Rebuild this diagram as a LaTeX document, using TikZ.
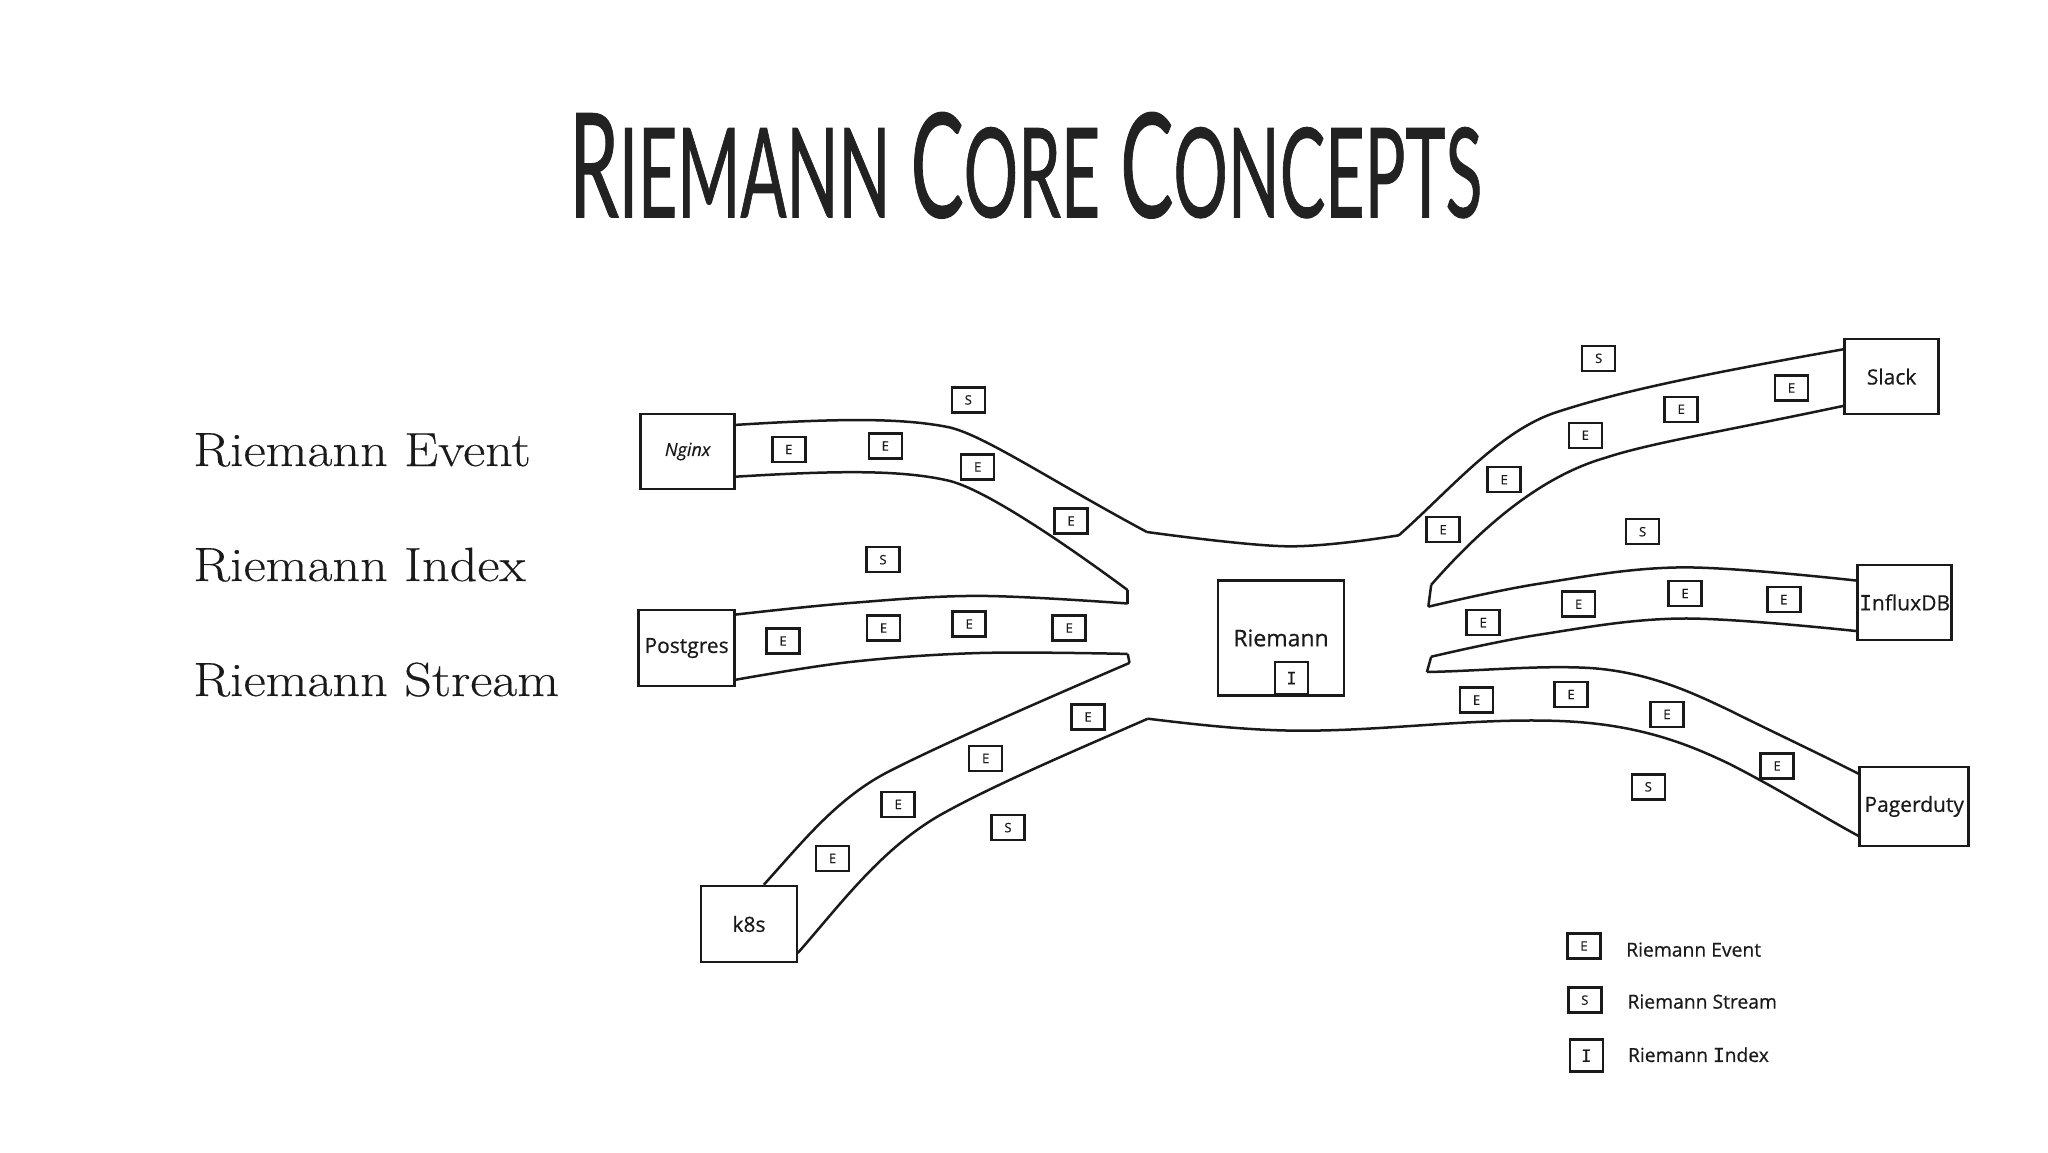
\documentclass[tikz,border=0pt]{standalone}
\usepackage{fontspec}
\newfontfamily\termfont[FakeStretch=1.13,FakeBold=0.25]{Latin Modern Roman}
\newfontfamily\sketchfont[FakeBold=0.5]{Open Sans}
\newfontfamily\barfont[FakeBold=0.5]{DejaVu Sans Mono}
\newfontfamily\titlefont[FakeBold=0.9]{Lato}
\newcommand{\barI}{{\barfont I}}
\definecolor{inkcolor}{HTML}{1A1A1A}
\definecolor{titlecolor}{HTML}{222222}
\tikzset{
  hostbox/.style={draw=inkcolor,line width=2.5pt,inner sep=0pt,text=inkcolor,font=\sketchfont\fontsize{21}{22}\selectfont},
  tokenbox/.style={draw=inkcolor,line width=2.5pt,inner sep=0pt,minimum width=33pt,minimum height=25pt,text=inkcolor,font=\sketchfont\fontsize{13}{14}\selectfont},
  pipe/.style={draw=inkcolor,line width=2.5pt,line join=round},
  keytext/.style={anchor=west,inner sep=0pt,text=inkcolor,font=\sketchfont\fontsize{19.3}{20}\selectfont},
  termtext/.style={anchor=base west,inner sep=0pt,text=inkcolor,font=\termfont\fontsize{48}{52}\selectfont},
}
\begin{document}
\begin{tikzpicture}[x=1pt,y=-1pt]
\useasboundingbox (0,0) rectangle (2048,1152);

\node[inner sep=0pt,anchor=north west,text=titlecolor] (title) at (569,112) {\resizebox{913pt}{105pt}{\titlefont\fontsize{105}{110}\selectfont R{\fontsize{90}{100}\selectfont IEMANN} C{\fontsize{90}{100}\selectfont ORE} C{\fontsize{90}{100}\selectfont ONCEPTS}}};

\node[termtext] (termE) at (193,466) {Riemann Event};
\node[termtext] (termI) at (193,581) {Riemann Index};
\node[termtext] (termS) at (193,696) {Riemann Stream};

% hosts
\node[hostbox,minimum width=94pt,minimum height=75pt,font=\sketchfont\fontsize{18}{18}\selectfont\itshape] (nginx) at (687.7,451.5) {Nginx};
\node[hostbox,minimum width=96pt,minimum height=76pt] (postgres) at (686.6,648) {Postgres};
\node[hostbox,minimum width=96pt,minimum height=76pt] (k8s) at (749,924) {k8s};
\node[hostbox,minimum width=94pt,minimum height=75pt] (slack) at (1891.6,376.6) {Slack};
\node[hostbox,minimum width=94pt,minimum height=75pt] (influx) at (1904.7,602.4) {\barI nfluxDB};
\node[hostbox,minimum width=109pt,minimum height=79pt] (pager) at (1914.2,806.4) {Pagerduty};
\node[hostbox,minimum width=126pt,minimum height=115pt,font=\sketchfont\fontsize{23}{24}\selectfont] (riemann) at (1281,638) {Riemann};

% corners of the channels
\coordinate (NW) at (1146.9,532);
\coordinate (NE) at (1398.8,535.3);
\coordinate (SW) at (1147.8,718.7);
\coordinate (A1) at (1127.7,590.1);
\coordinate (A2) at (1127.7,603.5);
\coordinate (B1) at (1127.7,653.9);
\coordinate (B2) at (1129.5,662.9);
\coordinate (C1) at (1431.2,584.8);
\coordinate (C2) at (1428.3,606.7);
\coordinate (D1) at (1431.2,656.7);
\coordinate (D2) at (1426.9,672);

% left side
\draw[pipe] (735.3,424.9) .. controls (830,419) and (900,417) .. (950,427.5) .. controls (985,436) and (1050,480) .. (NW);
\draw[pipe] (735.3,476.7) .. controls (830,471) and (900,469) .. (950,481) .. controls (985,490) and (1060,540) .. (A1);
\draw[pipe] (A1)--(A2);
\draw[pipe] plot[smooth,tension=0.6] coordinates {(735.3,614.6) (850,603) (979.5,595.9) (A2)};
\draw[pipe] plot[smooth,tension=0.6] coordinates {(735.3,679.8) (850,662) (979.5,653) (B1)};
\draw[pipe] (B1)--(B2);
\draw[pipe] (763.8,884.7) .. controls (800,845) and (835,800) .. (885.7,773.1) .. controls (930,750) and (1020,710) .. (B2);
\draw[pipe] (797.8,953) .. controls (840,905) and (880,850) .. (939.3,815.5) .. controls (990,787) and (1060,757) .. (SW);

% middle
\draw[pipe] plot[smooth,tension=0.6] coordinates {(NW) (1287.5,546.3) (NE)};
\draw[pipe] (SW) .. controls (1200,725) and (1260,732) .. (1320,730.5) .. controls (1400,729) and (1480,718) .. (1560,721) .. controls (1640,724) and (1690,745) .. (1729.4,763.9) .. controls (1775,787) and (1820,815) .. (1858.2,835.8);

% right side
\draw[pipe] (NE) .. controls (1450,490) and (1500,430) .. (1557.6,411.8) .. controls (1610,395) and (1670,380) .. (1844.4,349.1);
\draw[pipe] (C1) .. controls (1475,535) and (1535,478) .. (1605.3,457.8) .. controls (1650,443) and (1720,432) .. (1844.4,405.7);
\draw[pipe] (C1)--(C2);
\draw[pipe] plot[smooth,tension=0.6] coordinates {(C2) (1538.5,583.8) (1681.7,567.4) (1857.7,580.7)};
\draw[pipe] plot[smooth,tension=0.6] coordinates {(D1) (1538.5,634.8) (1681.7,618.5) (1857.7,631.2)};
\draw[pipe] (D1)--(D2);
\draw[pipe] (D2) .. controls (1480,671) and (1540,665) .. (1590,668) .. controls (1650,672) and (1695,694) .. (1729.4,710.3) .. controls (1775,733) and (1820,754) .. (1858.2,773.6);

% events
\node[tokenbox] (E1) at (788.8,449.5) {E};
\node[tokenbox] (E2) at (885.3,445.9) {E};
\node[tokenbox] (E3) at (977.7,466.9) {E};
\node[tokenbox] (E4) at (1071,520.9) {E};
\node[tokenbox] (E5) at (783,641) {E};
\node[tokenbox] (E6) at (883.5,628) {E};
\node[tokenbox] (E7) at (969.2,624) {E};
\node[tokenbox] (E8) at (1069.2,628) {E};
\node[tokenbox] (E9) at (1088,716.9) {E};
\node[tokenbox] (E10) at (985.7,758.4) {E};
\node[tokenbox] (E11) at (898.2,804.4) {E};
\node[tokenbox] (E12) at (832.6,858.4) {E};
\node[tokenbox] (E13) at (1791.4,387.9) {E};
\node[tokenbox] (E14) at (1681.2,409.3) {E};
\node[tokenbox] (E15) at (1585.3,435.3) {E};
\node[tokenbox] (E16) at (1504.2,479.7) {E};
\node[tokenbox] (E17) at (1443.1,529.7) {E};
\node[tokenbox] (E18) at (1783.8,599.6) {E};
\node[tokenbox] (E19) at (1685,593.5) {E};
\node[tokenbox] (E20) at (1578.6,604.2) {E};
\node[tokenbox] (E21) at (1483.2,622.6) {E};
\node[tokenbox] (E22) at (1777.1,765.9) {E};
\node[tokenbox] (E23) at (1666.9,714.4) {E};
\node[tokenbox] (E24) at (1571,694.5) {E};
\node[tokenbox] (E25) at (1476.5,700.1) {E};

% streams
\node[tokenbox] (S1) at (968.3,399.9) {S};
\node[tokenbox] (S2) at (883,559.7) {S};
\node[tokenbox] (S3) at (1008,827.6) {S};
\node[tokenbox] (S4) at (1598.7,358.3) {S};
\node[tokenbox] (S5) at (1642.6,531.7) {S};
\node[tokenbox] (S6) at (1648.3,786.8) {S};

% index
\node[tokenbox,minimum height=32pt,font=\barfont\fontsize{17}{18}\selectfont] (I1) at (1291.5,678) {I};

% key
\node[tokenbox] (keyE) at (1583.9,946) {E};
\node[tokenbox] (keyS) at (1584.8,1000.1) {S};
\node[tokenbox,minimum height=32pt,font=\barfont\fontsize{17}{18}\selectfont] (keyI) at (1586.3,1055.7) {I};
\node[keytext] (keyEtext) at (1626,949.6) {Riemann Event};
\node[keytext] (keyStext) at (1627.3,1001.6) {Riemann Stream};
\node[keytext] (keyItext) at (1627.8,1054.7) {Riemann \barI ndex};
\end{tikzpicture}
\end{document}
